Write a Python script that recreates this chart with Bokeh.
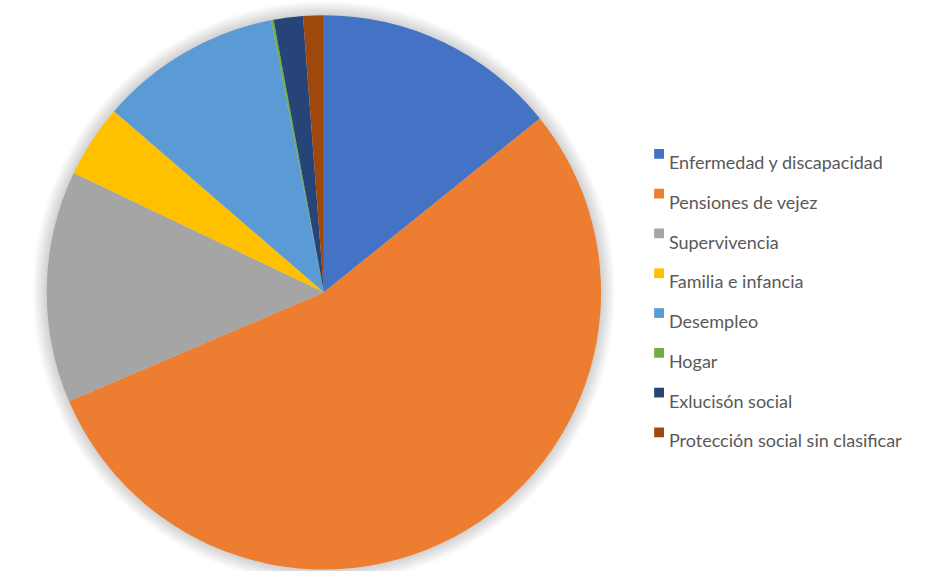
import numpy as np
from bokeh.plotting import figure
from bokeh.models import Range1d, ColumnDataSource
from bokeh.core.properties import value
from bokeh.embed import file_html
from bokeh.resources import INLINE

categories = ["Enfermedad y discapacidad", "Pensiones de vejez", "Supervivencia",
              "Familia e infancia", "Desempleo", "Hogar", "Exlucisón social",
              "Protección social sin clasificar"]
shares = [14.2, 54.3, 13.5, 4.25, 10.6, 0.15, 1.7, 1.2]
colors = ["#4472C4", "#ED7D31", "#A5A5A5", "#FFC000", "#5B9BD5", "#70AD47", "#264478", "#9E480E"]

W, H = 922, 571
RW, RH = 938, 587
p = figure(width=W, height=H, output_backend="svg", toolbar_location=None,
           x_range=Range1d(0, RW), y_range=Range1d(0, RH),
           min_border=0, outline_line_color=None)
p.axis.visible = False
p.grid.visible = False
p.background_fill_color = "white"
p.border_fill_color = "white"

cx, cy, R = 329, RH - 300, 282

# soft shadow/glow
for k in range(1, 12):
    p.circle(x=[cx], y=[cy], radius=R + k * 1.3, fill_color="black", fill_alpha=0.014,
             line_color=None)

vals = np.array(shares, dtype=float)
frac = vals / vals.sum()
cum = np.concatenate([[0], np.cumsum(frac)])
start = np.pi / 2 - cum[:-1] * 2 * np.pi
end = np.pi / 2 - cum[1:] * 2 * np.pi

src = ColumnDataSource(dict(start=start, end=end, color=colors, cat=categories))
p.wedge(x=cx, y=cy, radius=R, start_angle="start", end_angle="end", direction="clock",
        fill_color="color", line_color=None, source=src)

# legend
n = len(categories)
idx = np.arange(n)
sq_y = RH - (157.7 + 40.9 * idx)
txt_y = RH - (166 + 40.9 * idx)
p.rect(x=[670] * n, y=sq_y, width=10, height=10, fill_color=colors, line_color=None)
p.text(x=[680] * n, y=txt_y, text=categories, text_font=value("Lato"),
       text_font_size="18px", text_color="#595959", text_baseline="alphabetic",
       text_align="left")

open("out.html", "w").write(file_html(p, INLINE))
